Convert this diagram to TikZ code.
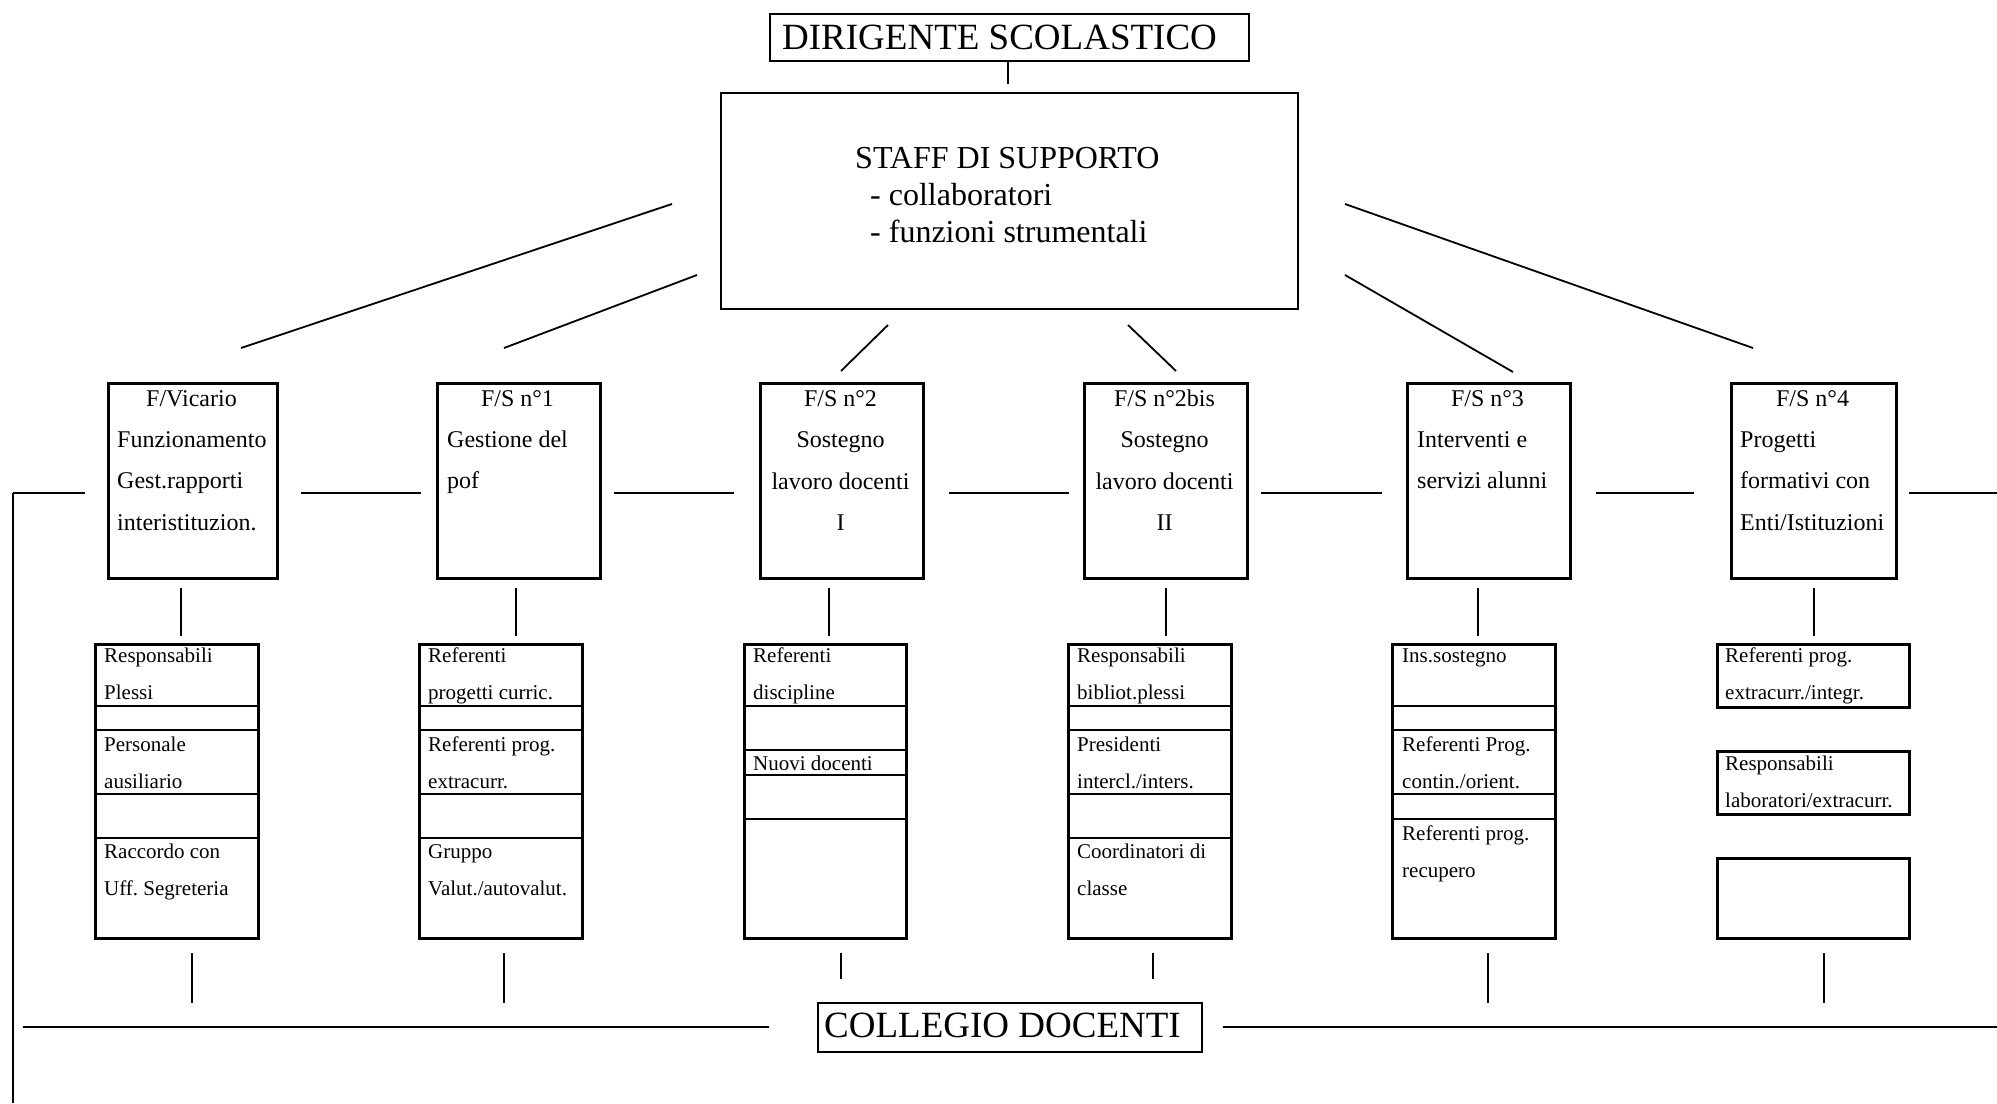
\documentclass[tikz,border=0pt]{standalone}
\usepackage{fontspec}
\setmainfont{Liberation Serif}
\newcommand{\Lft}[1]{\vtop{\halign{##\hfil\cr#1\crcr}}}
\newcommand{\Ctr}[1]{\vtop{\halign{\hfil##\hfil\cr#1\crcr}}}
\tikzset{
  frame/.style={draw, line width=2.5pt, inner sep=0pt, anchor=north west},
  divline/.style={line width=2.5pt},
  link/.style={line width=1.8pt},
  thinlink/.style={line width=1.4pt},
  bigtxt/.style={font=\fontsize{37}{44}\selectfont, inner sep=0pt, anchor=base west},
  stafftxt/.style={font=\fontsize{32}{37}\selectfont, inner sep=0pt, anchor=base west},
  maintxt/.style={font=\fontsize{24}{41.5}\selectfont, inner sep=0pt},
  subtxt/.style={font=\fontsize{21}{37}\selectfont, inner sep=0pt, anchor=base west},
}
\begin{document}
\begin{tikzpicture}[x=1pt, y=-1pt]
\useasboundingbox (0,0) rectangle (1997,1103);
\fill[white] (0,0) rectangle (1997,1103);

% ---- top ----
\node[frame, line width=2.2pt, minimum width=479pt, minimum height=47pt] (dir) at (769,13) {};
\node[bigtxt] (dirT) at (782,49) {DIRIGENTE SCOLASTICO};
\node[frame, line width=1.8pt, minimum width=577pt, minimum height=216pt] (staff) at (720,92) {};
\node[stafftxt] (staffT) at (855,168) {STAFF DI SUPPORTO};
\node[stafftxt] (staffA) at (870,205) {- collaboratori};
\node[stafftxt] (staffB) at (870,242) {- funzioni strumentali};
\coordinate (dsA) at (1008,61); \coordinate (dsB) at (1008,84);
\draw[link] (dsA) -- (dsB);

% ---- main boxes ----
\node[frame, minimum width=169pt, minimum height=195pt] (vic) at (107,382) {};
\node[frame, minimum width=163pt, minimum height=195pt] (fs1) at (436,382) {};
\node[frame, minimum width=163pt, minimum height=195pt] (fs2) at (759,382) {};
\node[frame, minimum width=163pt, minimum height=195pt] (fs2b) at (1083,382) {};
\node[frame, minimum width=163pt, minimum height=195pt] (fs3) at (1406,382) {};
\node[frame, minimum width=165pt, minimum height=195pt] (fs4) at (1730,382) {};

\node[maintxt, anchor=base] (vicT) at (191.5,406) {F/Vicario};
\node[maintxt, anchor=base west] (vicB) at (117,447) {\Lft{Funzionamento\cr Gest.rapporti\cr interistituzion.}};
\node[maintxt, anchor=base] (fs1T) at (517.5,406) {F/S n°1};
\node[maintxt, anchor=base west] (fs1B) at (447,447) {\Lft{Gestione del\cr pof}};
\node[maintxt, anchor=base] (fs2T) at (840.5,406) {\Ctr{F/S n°2\cr Sostegno\cr lavoro docenti\cr I}};
\node[maintxt, anchor=base] (fs2bT) at (1164.5,406) {\Ctr{F/S n°2bis\cr Sostegno\cr lavoro docenti\cr II}};
\node[maintxt, anchor=base] (fs3T) at (1487.5,406) {F/S n°3};
\node[maintxt, anchor=base west] (fs3B) at (1417,447) {\Lft{Interventi e\cr servizi alunni}};
\node[maintxt, anchor=base] (fs4T) at (1812.5,406) {F/S n°4};
\node[maintxt, anchor=base west] (fs4B) at (1740,447) {\Lft{Progetti\cr formativi con\cr Enti/Istituzioni}};

% ---- diagonals from staff ----
\coordinate (g1a) at (672,204);  \coordinate (g1b) at (241,348);
\coordinate (g2a) at (697,275);  \coordinate (g2b) at (504,348);
\coordinate (g3a) at (888,325);  \coordinate (g3b) at (841,371);
\coordinate (g4a) at (1128,325); \coordinate (g4b) at (1176,371);
\coordinate (g5a) at (1345,275); \coordinate (g5b) at (1513,372);
\coordinate (g6a) at (1345,204); \coordinate (g6b) at (1753,348);
\foreach \i in {1,...,6} \draw[link] (g\i a) -- (g\i b);

% ---- horizontal links between main boxes ----
\coordinate (h0a) at (13,493);   \coordinate (h0b) at (85,493);
\coordinate (h1a) at (301,493);  \coordinate (h1b) at (421,493);
\coordinate (h2a) at (614,493);  \coordinate (h2b) at (734,493);
\coordinate (h3a) at (949,493);  \coordinate (h3b) at (1069,493);
\coordinate (h4a) at (1261,493); \coordinate (h4b) at (1382,493);
\coordinate (h5a) at (1596,493); \coordinate (h5b) at (1694,493);
\coordinate (h6a) at (1909,493); \coordinate (h6b) at (1997,493);
\foreach \i in {0,...,6} \draw[link] (h\i a) -- (h\i b);
\coordinate (lbot) at (13,1103);
\draw[thinlink] (h0a) -- (lbot);

% ---- sub boxes ----
\node[frame, minimum width=163pt, minimum height=294pt] (vicS) at (94,643) {};
\node[frame, minimum width=163pt, minimum height=294pt] (fs1S) at (418,643) {};
\node[frame, minimum width=162pt, minimum height=294pt] (fs2S) at (743,643) {};
\node[frame, minimum width=163pt, minimum height=294pt] (fs2bS) at (1067,643) {};
\node[frame, minimum width=163pt, minimum height=294pt] (fs3S) at (1391,643) {};
\node[frame, minimum width=192pt, minimum height=63pt] (fs4Sa) at (1716,643) {};
\node[frame, minimum width=192pt, minimum height=63pt] (fs4Sb) at (1716,750) {};
\node[frame, minimum width=192pt, minimum height=80pt] (fs4Sc) at (1716,857) {};

% dividers
\foreach \y in {706,730,794,838} {
  \draw[divline] (94,\y) -- (257,\y);
  \draw[divline] (418,\y) -- (581,\y);
  \draw[divline] (1067,\y) -- (1230,\y);
}
\foreach \y in {706,750,775,819} \draw[divline] (743,\y) -- (905,\y);
\foreach \y in {706,730,794,819} \draw[divline] (1391,\y) -- (1554,\y);

% sub texts
\node[subtxt] (v1) at (104,662) {\Lft{Responsabili\cr Plessi}};
\node[subtxt] (v2) at (104,751) {\Lft{Personale\cr ausiliario}};
\node[subtxt] (v3) at (104,858) {\Lft{Raccordo con\cr Uff.\ Segreteria}};
\node[subtxt] (a1) at (428,662) {\Lft{Referenti\cr progetti curric.}};
\node[subtxt] (a2) at (428,751) {\Lft{Referenti prog.\cr extracurr.}};
\node[subtxt] (a3) at (428,858) {\Lft{Gruppo\cr Valut./autovalut.}};
\node[subtxt] (b1) at (753,662) {\Lft{Referenti\cr discipline}};
\node[subtxt] (b2) at (753,770) {Nuovi docenti};
\node[subtxt] (c1) at (1077,662) {\Lft{Responsabili\cr bibliot.plessi}};
\node[subtxt] (c2) at (1077,751) {\Lft{Presidenti\cr intercl./inters.}};
\node[subtxt] (c3) at (1077,858) {\Lft{Coordinatori di\cr classe}};
\node[subtxt] (d1) at (1402,662) {Ins.sostegno};
\node[subtxt] (d2) at (1402,751) {\Lft{Referenti Prog.\cr contin./orient.}};
\node[subtxt] (d3) at (1402,840) {\Lft{Referenti prog.\cr recupero}};
\node[subtxt] (e1) at (1725,662) {\Lft{Referenti prog.\cr extracurr./integr.}};
\node[subtxt] (e2) at (1725,770) {\Lft{Responsabili\cr laboratori/extracurr.}};

% ---- vertical links main -> sub ----
\foreach \n/\x in {vic/181, fs1/516, fs2/829, fs2b/1166, fs3/1478, fs4/1814} {
  \coordinate (\n va) at (\x,588); \coordinate (\n vb) at (\x,636);
  \draw[link] (\n va) -- (\n vb);
}
% ---- vertical links sub -> collegio ----
\foreach \n/\x/\e in {vic/192/1003, fs1/504/1003, fs2/841/979, fs2b/1153/979, fs3/1488/1003, fs4/1824/1003} {
  \coordinate (\n wa) at (\x,953); \coordinate (\n wb) at (\x,\e);
  \draw[thinlink] (\n wa) -- (\n wb);
}

% ---- collegio ----
\node[frame, line width=2.2pt, minimum width=384pt, minimum height=49pt] (coll) at (817,1002) {};
\node[bigtxt] (collT) at (824,1037) {COLLEGIO DOCENTI};
\coordinate (ca) at (23,1027);   \coordinate (cb) at (769,1027);
\coordinate (cc) at (1223,1027); \coordinate (cd) at (1997,1027);
\draw[line width=2.2pt] (ca) -- (cb);
\draw[line width=2.2pt] (cc) -- (cd);
\end{tikzpicture}
\end{document}
